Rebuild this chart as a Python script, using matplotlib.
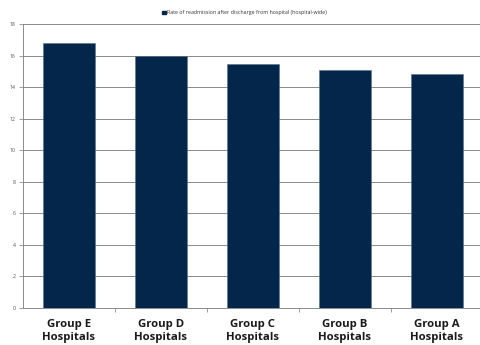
import matplotlib
matplotlib.use("Agg")
import matplotlib.pyplot as plt
from matplotlib.patches import Rectangle

categories = ["Group E\nHospitals", "Group D\nHospitals", "Group C\nHospitals",
              "Group B\nHospitals", "Group A\nHospitals"]
values = [16.8, 16.0, 15.5, 15.1, 14.85]
series_name = "Rate of readmission after discharge from hospital (hospital-wide)"
yticks = [0, 2, 4, 6, 8, 10, 12, 14, 16, 18]

bar_color = "#03264A"
grid_color = "#8a8a8a"

fig = plt.figure(figsize=(4.81, 3.45), dpi=100)
ax = fig.add_axes([0.0478, 0.1072, 0.9563, 0.823])

x = list(range(len(categories)))
ax.bar(x, values, width=0.575, color=bar_color, edgecolor="#5a6f88", linewidth=0.4, zorder=3)
ax.set_xlim(-0.5, 4.5)
ax.set_ylim(0, 18)
ax.set_yticks(yticks)
ax.set_yticklabels([str(t) for t in yticks], fontsize=3.8, color="#555555", family="Open Sans")
ax.yaxis.grid(True, color=grid_color, linewidth=0.7, zorder=0)
ax.tick_params(axis="y", length=3, width=0.6, color=grid_color, pad=2)

ax.set_xticks([i + 0.5 for i in range(len(categories) - 1)])
ax.set_xticklabels([])
ax.set_xticks(x, minor=True)
ax.set_xticklabels(categories, minor=True, fontsize=8.2, fontweight="bold",
                   family="Open Sans", color="#1a1a1a", linespacing=1.25)
ax.tick_params(axis="x", which="major", length=3, width=0.6, color=grid_color)
ax.tick_params(axis="x", which="minor", length=0, pad=8)

for s in ["top", "right"]:
    ax.spines[s].set_visible(False)
for s in ["left", "bottom"]:
    ax.spines[s].set_color(grid_color)
    ax.spines[s].set_linewidth(0.7)

# legend
fig.patches.append(Rectangle((0.3375, 0.9585), 0.0068, 0.0095, transform=fig.transFigure,
                             color=bar_color, figure=fig))
fig.text(0.3465, 0.963, series_name, fontsize=3.8, family="Open Sans", color="#333333",
         va="center", ha="left")

fig.savefig("out.png", dpi=100)
